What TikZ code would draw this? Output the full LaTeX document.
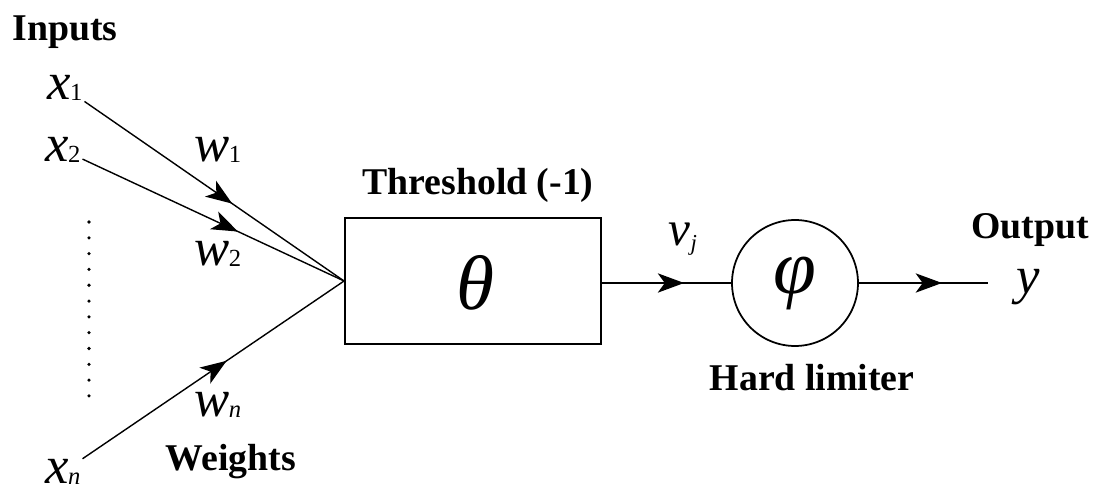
\documentclass[tikz,border=0pt]{standalone}
\usepackage{fontspec}
\setmainfont{Liberation Serif}
\usetikzlibrary{arrows.meta,decorations.markings}
\newcommand\vlab[2]{{\fontsize{30}{32}\selectfont\itshape #1}\kern-0.5pt\raisebox{-1pt}{\fontsize{14}{16}\selectfont #2}}
\begin{document}
\begin{tikzpicture}[x=0.02cm,y=-0.02cm,
  lbl/.style={font=\bfseries\fontsize{21.5}{24}\selectfont, inner sep=0pt},
  var/.style={inner sep=1pt},
  conn/.style={line width=0.8pt},
  tipat/.style={postaction={decorate},decoration={markings,
     mark=at position -#1 with {\arrow{Stealth[length=15pt,width=11pt,inset=4pt]}}}},
  blockbox/.style={draw, line width=1.1pt, minimum width=5.12cm, minimum height=2.52cm, inner sep=0pt},
  fcircle/.style={draw, circle, line width=1pt, minimum size=2.52cm, inner sep=0pt}
]
\useasboundingbox (0,0) rectangle (1100,493);
\fill[white] (0,0) rectangle (1100,493);

\node[lbl] (inputs) at (65,32) {Inputs};
\node[lbl] (weights) at (231,462) {Weights};
\node[lbl] (thr) at (478,185) {Threshold (-1)};
\node[lbl] (hard) at (812,378) {Hard limiter};
\node[lbl] (output) at (1030,230) {Output};

\node[var] (x1) at (65,88) {\vlab{x}{1}};
\node[var] (x2) at (63,150) {\vlab{x}{2}};
\node[var] (xn) at (63,472) {\vlab{x}{\itshape n}};
\node[var] (w1) at (218,150) {\vlab{w}{1}};
\node[var] (w2) at (218,254) {\vlab{w}{2}};
\node[var] (wn) at (218,405) {\vlab{w}{\itshape n}};

\node[blockbox] (box) at (473,281) {};
\node (theta) at (475,283) {\fontsize{44}{48}\selectfont\itshape θ};
\node[fcircle] (phi) at (795,283) {\fontsize{44}{48}\selectfont\itshape φ};
\node[var] (vj) at (683,239) {{\fontsize{28}{30}\selectfont\itshape v}\raisebox{-3pt}{\fontsize{13}{15}\selectfont\itshape j}};
\node[var] (ylab) at (1028,287) {{\fontsize{30}{32}\selectfont\itshape y}};
\coordinate (yend) at (988,283);
\coordinate (dtop) at (89,222);
\coordinate (dbot) at (89,410);

\draw[conn,tipat=2.72cm] (x1) -- (box.west);
\draw[conn,tipat=2.34cm] (x2) -- (box.west);
\draw[conn,tipat=2.84cm] (xn) -- (box.west);
\draw[conn,tipat=0.94cm] (box.east |- phi.west) -- (phi.west);
\draw[conn,tipat=0.92cm] (phi.east) -- (yend);
\draw[line width=2pt, line cap=round, dash pattern=on 0pt off 9pt] (dtop) -- (dbot);
\end{tikzpicture}
\end{document}
